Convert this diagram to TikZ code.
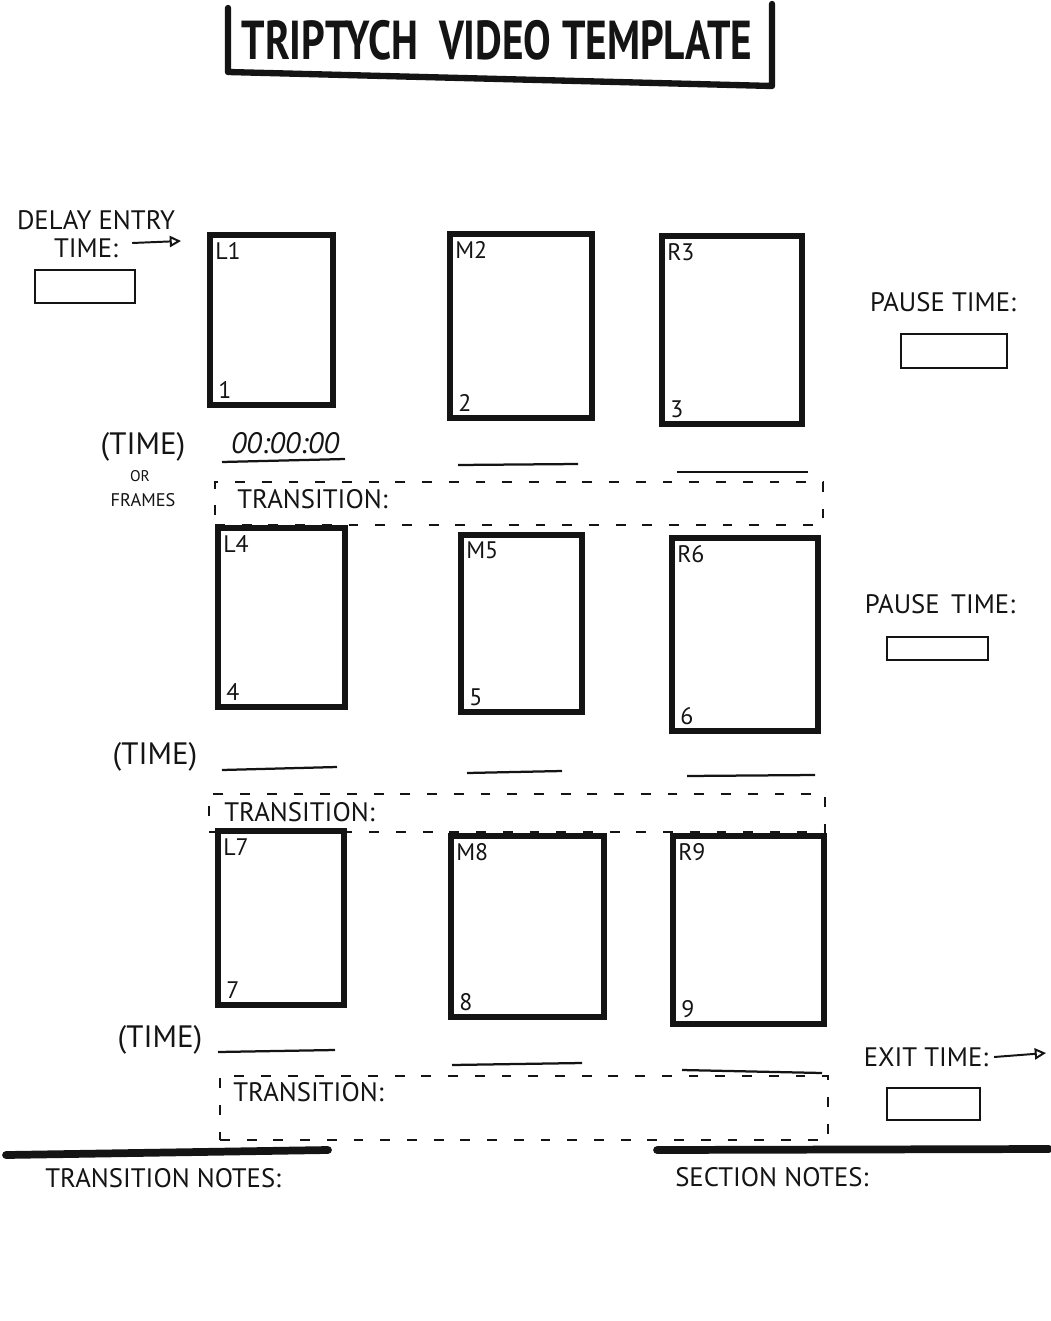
\documentclass[tikz,border=0pt]{standalone}
\usepackage{fontspec}
\usepackage{graphicx}
\setmainfont{PT Sans}
\usetikzlibrary{arrows.meta,fit}

\definecolor{ink}{HTML}{141414}
\definecolor{paper}{HTML}{FFFFFF}

\begin{document}
\begin{tikzpicture}[x=0.025cm,y=-0.025cm,ink,
  lbl/.style={font=\fontsize{19}{21}\selectfont,inner sep=0pt},
  small/.style={font=\fontsize{17}{19}\selectfont,inner sep=0pt},
  panel/.style={draw=ink,line width=4.3pt,inner sep=0pt},
  slotbox/.style={draw=ink,line width=1.4pt,inner sep=0pt},
  transbox/.style={draw=ink,line width=1.2pt,dash pattern=on 7pt off 12pt,inner sep=0pt},
  rule/.style={ink,line width=1.6pt},
  heavy/.style={ink,line width=5.5pt,line cap=round},
  pointer/.style={ink,line width=1.4pt,-{Triangle[open,length=8pt,width=8pt]}}]
\fill[paper] (0,0) rectangle (1051,1321);
\useasboundingbox (0,0) rectangle (1051,1321);

\newcommand{\timeslot}[5]{%
  \node[slotbox,fit={(#2,#3) (#4,#5)}] (#1) {};
}

\node[font=\fontsize{26}{28}\selectfont\bfseries,inner sep=0pt] (title) at (497,40) {\scalebox{1.13}[1.5]{TRIPTYCH\ \ VIDEO TEMPLATE}};
\draw[ink,line width=4.5pt,line join=round,line cap=round] (228,8) -- (228,72) -- (772,86) -- (772,4);

\node[lbl] (delay) at (96,220) {DELAY ENTRY};
\node[lbl] (delaytm) at (86,248) {TIME:};
\coordinate (delayend) at (181,241);
\draw[pointer] ([shift={(14,-5)}]delaytm.east) -- (delayend);
\timeslot{delaybox}{35}{270}{135}{303}

\foreach \nm/\xa/\ya/\xb/\yb/\n in {
  L1/210/235/333/405/1, M2/450/234/592/418/2, R3/662/236/802/424/3,
  L4/218/528/345/707/4, M5/461/535/582/712/5, R6/672/538/818/731/6,
  L7/218/831/344/1005/7, M8/451/836/604/1017/8, R9/673/836/824/1024/9
} {
  \node[panel,fit={(\xa,\ya) (\xb,\yb)}] (\nm) {};
  \node[small,anchor=north west] (\nm lab) at ([shift={(8,10)}]\nm.north west) {\nm};
  \node[small,anchor=south west] (\nm num) at ([shift={(11,-9)}]\nm.south west) {\n};
}

\node[lbl] (pause1) at (943,302) {PAUSE TIME:};
\timeslot{pausebox1}{901}{334}{1007}{368}
\node[lbl] (pause2) at (940,604) {PAUSE\, TIME:};
\timeslot{pausebox2}{887}{637}{988}{660}
\node[lbl] (exit) at (926,1057) {EXIT TIME:};
\coordinate (exitend) at (1046,1053);
\draw[pointer] ([xshift=4pt]exit.east) -- (exitend);
\timeslot{exitbox}{887}{1088}{980}{1120}

\node[font=\fontsize{22}{24}\selectfont,inner sep=0pt] (time1) at (143,447) {(TIME)};
\node[font=\fontsize{11}{12}\selectfont,inner sep=0pt] (or) at (140,476) {OR};
\node[font=\fontsize{13}{14}\selectfont,inner sep=0pt] (frames) at (143,500) {FRAMES};
\node[font=\fontsize{22}{24}\selectfont,inner sep=0pt] (time2) at (155,757) {(TIME)};
\node[font=\fontsize{22}{24}\selectfont,inner sep=0pt] (time3) at (160,1040) {(TIME)};
\node[font=\fontsize{21}{23}\selectfont\itshape,inner sep=0pt] (stamp) at (285,443) {00:00:00};

\foreach \xa/\ya/\xb/\yb in {
  222/462/345/459, 458/465/578/464, 677/472/808/472,
  222/770/337/767, 467/773/562/771, 687/776/815/775,
  218/1052/335/1050, 452/1065/582/1063, 682/1070/822/1073
} {
  \draw[rule] (\xa,\ya) -- (\xb,\yb);
}

\node[transbox,fit={(215,482) (823,525)}] (T1) {};
\node[lbl,anchor=west] (T1lab) at (237,499) {TRANSITION:};
\node[transbox,fit={(209,794) (825,832)}] (T2) {};
\node[lbl,anchor=west] (T2lab) at (224,812) {TRANSITION:};
\node[transbox,fit={(220,1076) (828,1140)}] (T3) {};
\node[lbl,anchor=west] (T3lab) at (233,1092) {TRANSITION:};

\draw[heavy] (6,1155) -- (328,1150);
\draw[heavy] (657,1150) -- (1049,1149);
\node[lbl,anchor=west] (tnotes) at (45,1178) {TRANSITION NOTES:};
\node[lbl,anchor=west] (snotes) at (675,1177) {SECTION NOTES:};
\end{tikzpicture}
\end{document}
